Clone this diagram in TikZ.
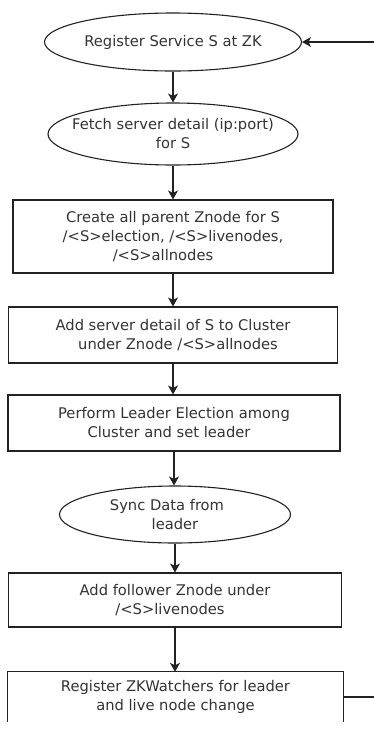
\documentclass[tikz,border=0pt]{standalone}
\usepackage{fontspec}
\setmainfont{DejaVu Sans}
\usetikzlibrary{shapes.geometric,arrows.meta}
\definecolor{ink}{HTML}{222222}
\definecolor{txt}{HTML}{333333}
\begin{document}
\begin{tikzpicture}[x=1pt,y=-1pt,
  every node/.style={font=\fontsize{14.7}{19}\selectfont, text=txt, align=center, inner sep=0pt},
  oval/.style={ellipse, draw=ink, line width=1.1pt},
  stepbox/.style={rectangle, draw=ink, line width=1.1pt},
  arr/.style={draw=ink, line width=1.1pt, -{Stealth[length=9pt,width=10pt,inset=2.5pt]}},
  ln/.style={draw=ink, line width=1.1pt}]
\useasboundingbox (0,0) rectangle (374,729);

\node[oval, minimum width=257pt, minimum height=58pt] (e1) at (173,42) {Register Service S at ZK};
\node[oval, inner xsep=-20pt, minimum width=250pt, minimum height=62pt] (e2) at (173,134)
  {Fetch server detail (ip:port)\\for S};
\node[stepbox, minimum width=320pt, minimum height=73pt] (b1) at (173,236.5)
  {Create all parent Znode for S\\/<S>election, /<S>livenodes,\\/<S>allnodes\hspace*{20pt}};
\node[stepbox, minimum width=329pt, minimum height=56pt] (b2) at (173,335)
  {Add server detail of S to Cluster\\\hspace*{10pt}under Znode /<S>allnodes};
\node[stepbox, minimum width=332pt, minimum height=56pt] (b3) at (174,423)
  {Perform Leader Election among\\Cluster and set leader\hspace*{10pt}};
\node[oval, minimum width=231pt, minimum height=57pt] (e3) at (175,514.5)
  {Sync Data from\hspace*{16pt}\\leader};
\node[stepbox, minimum width=333pt, minimum height=54pt] (b4) at (175,600)
  {Add follower Znode under\\/<S>livenodes\hspace*{10pt}};
\node[minimum width=335pt, minimum height=50pt] (b5) at (175.5,697)
  {Register ZKWatchers for leader\\and live node change};
\draw[ln] (b5.south west) |- (b5.north east) -- (b5.south east);

\draw[arr] (e1) -- (e1 |- e2.north);
\draw[arr] (e2) -- (e2 |- b1.north);
\draw[arr] (b1) -- (b1 |- b2.north);
\draw[arr] (b2) -- (b2 |- b3.north);
\draw[arr] (b3) -- (b3 |- e3.north);
\draw[arr] (e3) -- (e3 |- b4.north);
\draw[arr] (b4) -- (b4 |- b5.north);

\coordinate (loopB) at (374,697);
\coordinate (loopT) at (374,42);
\draw[ln] (b5.east) -- (loopB);
\draw[arr] (loopT) -- (e1.east);
\end{tikzpicture}
\end{document}
